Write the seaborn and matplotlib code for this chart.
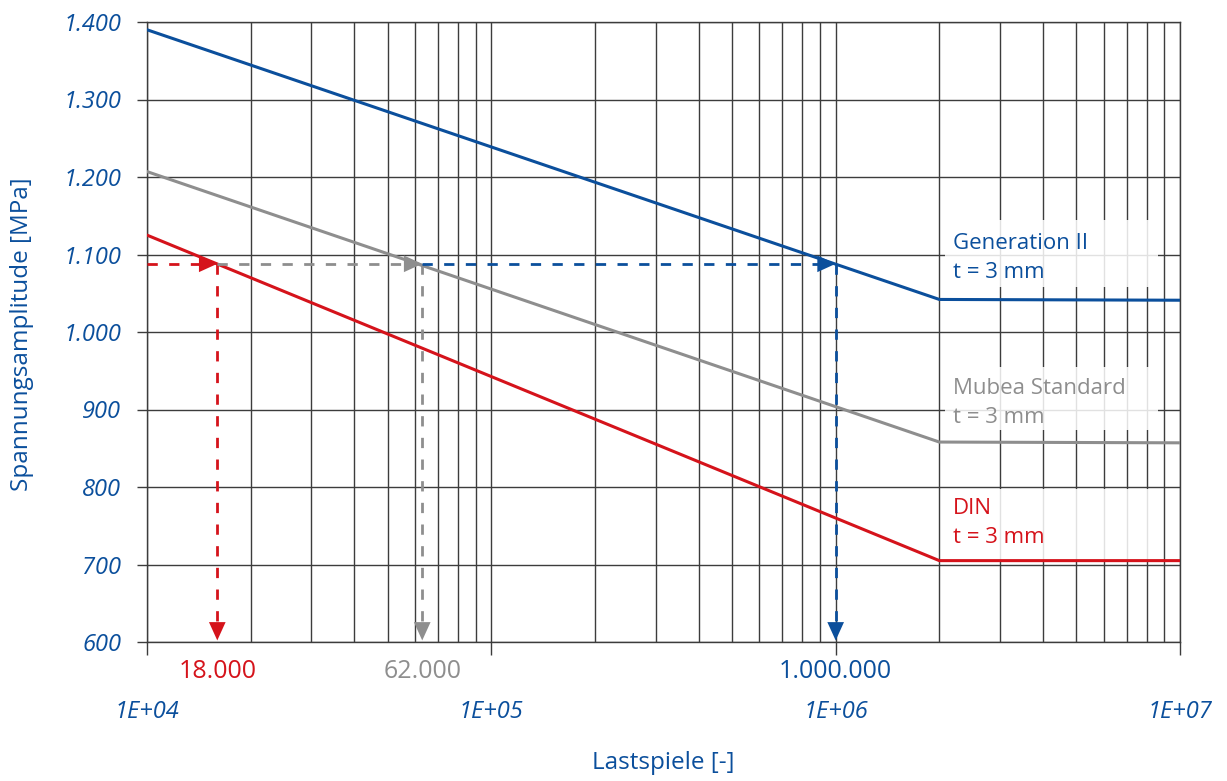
import matplotlib
matplotlib.use("Agg")
import matplotlib.pyplot as plt
from matplotlib.patches import Rectangle
import seaborn as sns
import pandas as pd
import numpy as np

# ---- data ----
cycles = [1e4, 2e6, 1e7]
gen2 = [1390, 1042, 1041]
mubea = [1207, 858, 857]
din = [1125, 705, 705]

series_names = ["Generation II", "Mubea Standard", "DIN"]
level = 1088
arrow_x = [16000, 63000, 1e6]
arrow_labels = ["18.000", "62.000", "1.000.000"]

y_ticks = [600, 700, 800, 900, 1000, 1100, 1200, 1300, 1400]
y_ticklabels = ["600", "700", "800", "900", "1.000", "1.100", "1.200", "1.300", "1.400"]
x_ticks = [1e4, 1e5, 1e6, 1e7]
x_ticklabels = ["1E+04", "1E+05", "1E+06", "1E+07"]

BLUE = "#0b4f9c"
GRAY = "#8e8e8e"
RED = "#d5131b"
GRID = "#3c3c3c"
colors = [BLUE, GRAY, RED]

sns.set_theme(style="white")
plt.rcParams['font.family'] = ['Open Sans', 'DejaVu Sans']

df = pd.DataFrame({
    "Lastspiele": cycles * 3,
    "Spannung": gen2 + mubea + din,
    "Serie": sum([[n] * len(cycles) for n in series_names], []),
})

W, H = 1227, 781
fig = plt.figure(figsize=(W / 100, H / 100), dpi=100)
ax = fig.add_axes([147/W, 1-642/H, (1180-147)/W, (642-22)/H])

ax.set_xscale("log")
ax.set_xlim(1e4, 1e7)
ax.set_ylim(600, 1400)

# grid
ax.set_yticks(y_ticks)
ax.set_xticks(x_ticks)
ax.xaxis.set_minor_locator(matplotlib.ticker.LogLocator(base=10, subs=np.arange(2, 10)))
ax.grid(True, which="major", axis="both", color=GRID, lw=1.0)
ax.grid(True, which="minor", axis="x", color=GRID, lw=1.0)
ax.set_axisbelow(True)

sns.lineplot(data=df, x="Lastspiele", y="Spannung", hue="Serie",
             palette=dict(zip(series_names, colors)), lw=2.2, ax=ax,
             legend=False, zorder=4)

# translucent white label boxes (axes-fraction positions)
def px_box(x0, y0, x1, y1):
    return Rectangle(((x0-147)/1033, (642-y1)/620), (x1-x0)/1033, (y1-y0)/620,
                     transform=ax.transAxes, facecolor="white", edgecolor="none",
                     alpha=0.85, zorder=2.5)
for box in [(945, 220, 1158, 287), (945, 367, 1158, 430), (945, 489, 1158, 560)]:
    ax.add_patch(px_box(*box))

# baseline of the last text line
label_baselines = [1070, 883, 728]
for yb, name, c in zip(label_baselines, series_names, colors):
    ax.text(2.19e6, yb, name + "\nt = 3 mm", color=c, fontsize=16,
            ha="left", va="baseline", linespacing=1.5, zorder=3)

# dashed helper lines + arrows
dash = (0, (3.7, 4.1))
head = "-|>,head_length=1.1,head_width=0.5"
starts = [1e4, arrow_x[0], arrow_x[1]]
for x0, x1, c in zip(starts, arrow_x, [RED, GRAY, BLUE]):
    ax.plot([x0, x1 / 1.06], [level, level], ls=dash, color=c, lw=2, zorder=5)
    ax.annotate("", xy=(x1, level), xytext=(-16, 0), textcoords="offset points",
                arrowprops=dict(arrowstyle=head, color=c, lw=0, shrinkA=0, shrinkB=0),
                zorder=6)
    ax.plot([x1, x1], [level, 620], ls=dash, color=c, lw=2, zorder=5)
    ax.annotate("", xy=(x1, 602), xytext=(0, 16), textcoords="offset points",
                arrowprops=dict(arrowstyle=head, color=c, lw=0, shrinkA=0, shrinkB=0),
                zorder=6)

for x, lab, c in zip(arrow_x, arrow_labels, [RED, GRAY, BLUE]):
    ax.annotate(lab, xy=(x, 0), xycoords=("data", "axes fraction"),
                xytext=(0, -12), textcoords="offset points",
                ha="center", va="top", fontsize=18, color=c)

# ticks
ax.set_yticklabels(y_ticklabels, fontsize=17, style="italic", color=BLUE)
ax.set_xticklabels(x_ticklabels, fontsize=17, style="italic", color=BLUE)
ax.tick_params(axis="y", which="major", direction="out", length=7, width=1.0,
               color=GRID, pad=11.5, left=True)
ax.tick_params(axis="x", which="major", direction="out", length=9, width=1.0,
               color=GRID, pad=33, bottom=True)
ax.tick_params(axis="x", which="minor", length=0)

for s in ax.spines.values():
    s.set_color(GRID)
    s.set_linewidth(1.0)

ax.set_xlabel("")
ax.set_ylabel("")
fig.text(22/W, 1-334/H, "Spannungsamplitude [MPa]", rotation=90,
         ha="center", va="center", fontsize=17.5, color=BLUE)
fig.text(663/W, 1-763/H, "Lastspiele [-]", ha="center", va="center",
         fontsize=17.5, color=BLUE)

fig.savefig("out.png", dpi=100)
